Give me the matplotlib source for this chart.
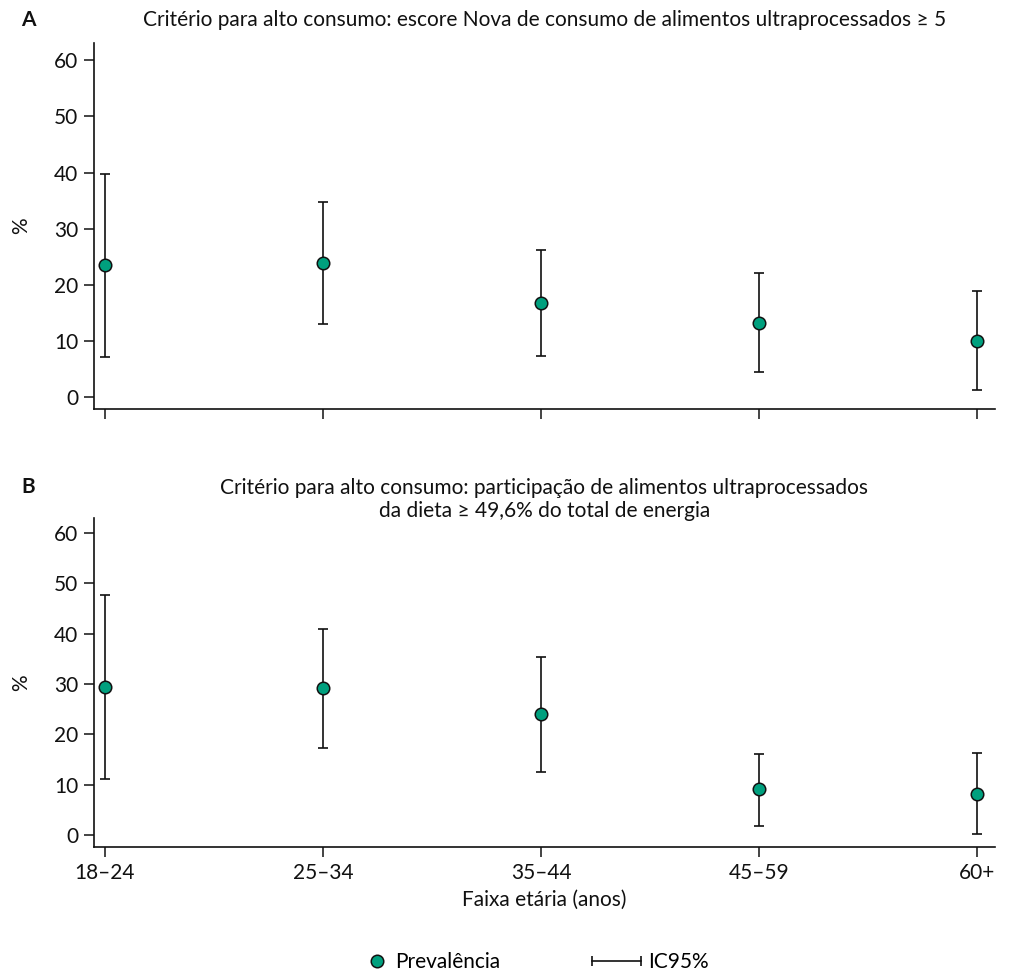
import matplotlib
matplotlib.use('Agg')
import numpy as np
import matplotlib.pyplot as plt
from matplotlib.lines import Line2D
from matplotlib.legend_handler import HandlerLine2D

plt.rcParams['font.family'] = ['Lato', 'DejaVu Sans']

age_groups = ['18–24', '25–34', '35–44', '45–59', '60+']

# Panel A: Nova score >= 5
prev_a = [23.5, 23.9, 16.8, 13.3, 10.0]
low_a = [7.1, 13.0, 7.3, 4.5, 1.3]
high_a = [39.7, 34.8, 26.3, 22.1, 19.0]

# Panel B: share of energy >= 49.6%
prev_b = [29.4, 29.2, 24.0, 9.1, 8.2]
low_b = [11.2, 17.3, 12.6, 1.9, 0.2]
high_b = [47.7, 41.0, 35.4, 16.2, 16.3]

titles = ['Critério para alto consumo: escore Nova de consumo de alimentos ultraprocessados ≥ 5',
          'Critério para alto consumo: participação de alimentos ultraprocessados\n'
          'da dieta ≥ 49,6% do total de energia']
letters = ['A', 'B']
title_y = [1.063, 1.056]
letter_y = [1.063, 1.095]

green = '#00A07E'
ink = '#111111'
fs = 15

fig = plt.figure(figsize=(10.1, 9.74), dpi=100)
ax_a = fig.add_axes([0.0931, 0.5801, 0.892, 0.3758])
ax_b = fig.add_axes([0.0931, 0.1307, 0.892, 0.3372])

panels = [(ax_a, prev_a, low_a, high_a, (-2.1, 63.1)),
          (ax_b, prev_b, low_b, high_b, (-2.3, 62.9))]

x = np.arange(len(age_groups))
for i, (ax, prev, low, high, ylim) in enumerate(panels):
    prev = np.array(prev)
    err = [prev - np.array(low), np.array(high) - prev]
    ax.errorbar(x, prev, yerr=err, fmt='none', ecolor=ink,
                elinewidth=1.2, capsize=3.6, capthick=1.2, zorder=2)
    ax.plot(x, prev, 'o', color=green, markersize=9,
            markeredgecolor=ink, markeredgewidth=1.1, zorder=3)
    ax.set_xlim(-0.05, 4.08)
    ax.set_ylim(*ylim)
    ax.set_yticks(np.arange(0, 61, 10))
    ax.set_xticks(x)
    for side in ['top', 'right']:
        ax.spines[side].set_visible(False)
    for side in ['left', 'bottom']:
        ax.spines[side].set_linewidth(1.2)
        ax.spines[side].set_color(ink)
    ax.tick_params(axis='both', direction='out', length=7.5, width=1.1,
                   colors=ink, labelsize=fs, pad=4)
    ax.set_ylabel('%', fontsize=fs, labelpad=16, color=ink)
    ax.text(0.5, title_y[i], titles[i], transform=ax.transAxes,
            ha='center', va='center', fontsize=fs, linespacing=1.2,
            color=ink)
    ax.text(-0.073, letter_y[i], letters[i], transform=ax.transAxes,
            ha='center', va='center', fontsize=fs, fontweight='bold',
            color=ink)

ax_a.set_xticklabels([])
ax_b.set_xticklabels(age_groups)
ax_b.set_xlabel('Faixa etária (anos)', fontsize=fs, labelpad=5, color=ink)

h_prev = Line2D([], [], linestyle='none', marker='o', color=green,
                markersize=9, markeredgecolor=ink, markeredgewidth=1.1)
h_ci = Line2D([], [], color=ink, linewidth=1.2, marker='|',
              markersize=7, markeredgewidth=1.2)
leg1 = fig.legend([h_prev], ['Prevalência'], loc='center left',
                  bbox_to_anchor=(0.363, 0.0125), frameon=False, fontsize=fs,
                  handlelength=1.0, handletextpad=0.37, borderpad=0,
                  borderaxespad=0)
leg2 = fig.legend([h_ci], ['IC95%'], loc='center left',
                  bbox_to_anchor=(0.586, 0.0125), frameon=False, fontsize=fs,
                  handlelength=2.35, handletextpad=0.34, borderpad=0,
                  borderaxespad=0,
                  handler_map={h_ci: HandlerLine2D(numpoints=2, marker_pad=0)})

fig.savefig('out.png', dpi=100)
